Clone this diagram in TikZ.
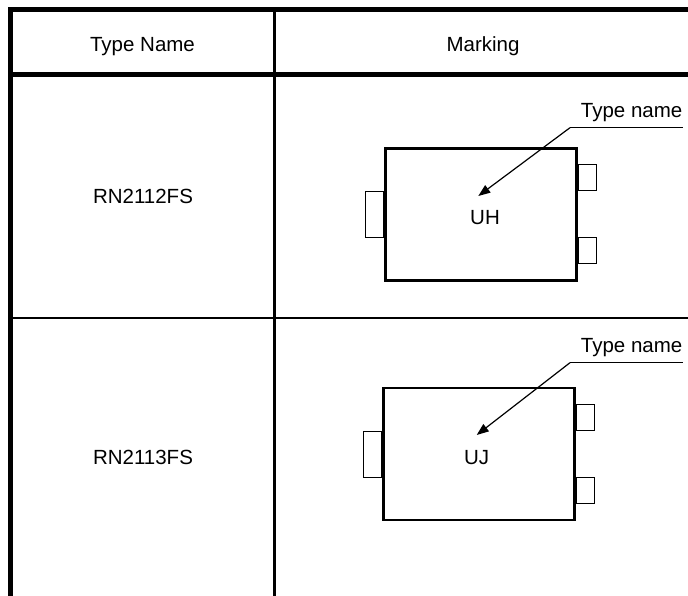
\documentclass[tikz,border=0pt]{standalone}
\usepackage{fontspec}
\setmainfont{Liberation Sans}
\usetikzlibrary{positioning}
\usetikzlibrary{arrows.meta}

\begin{document}
\begin{tikzpicture}[x=1pt,y=-1pt,
    lbl/.style={font=\fontsize{20.5}{24}\selectfont, inner sep=0pt},
    pkg/.style={shape=rectangle, draw=black, line width=2.5pt, minimum width=191, minimum height=132, inner sep=0pt},
    pinl/.style={shape=rectangle, draw=black, line width=1pt, minimum width=18, minimum height=46, inner sep=0pt, anchor=east},
    pinr/.style={shape=rectangle, draw=black, line width=1pt, minimum width=18, minimum height=26, inner sep=0pt, anchor=west}]
    \useasboundingbox (0,0) rectangle (688,596);

    % table frame
    \draw [line width=5pt] (688,9.5) -- (10.3,9.5) -- (10.3,596);
    \draw [line width=5pt] (10.3,74.5) -- (688,74.5);
    \draw [line width=2.7pt] (274.7,9.5) -- (274.7,596);
    \draw [line width=2.3pt] (10.3,318) -- (688,318);

    \node[lbl, anchor=base] (hd_type) at (142.5,51.7) {Type Name};
    \node[lbl, anchor=base] (hd_mark) at (483,51.7) {Marking};
    \node[lbl, anchor=base] (type_A) at (143,203.3) {RN2112FS};
    \node[lbl, anchor=base] (type_B) at (143,464) {RN2113FS};

    % first package
    \node[pkg] (pkg_A) at (480.8,214.7) {};
    \node[pinl] (pin_A1) at (pkg_A.west) {};
    \node[pinr] (pin_A2) at ([yshift=-36]pkg_A.east) {};
    \node[pinr] (pin_A3) at ([yshift=37]pkg_A.east) {};
    \node[lbl, anchor=base] (mark_A) at (485,225) {UH};
    \node[lbl, anchor=base west] (name_A) at (580.7,118) {Type name};
    \coordinate (lead_A) at (570,127.7);
    \coordinate (tip_A) at (478.3,196);
    \draw [line width=1.2pt] (lead_A) -- (lead_A -| name_A.east);
    \path [line width=1.2pt, -{Triangle[length=12pt, width=9pt]}] (lead_A) edge (tip_A);

    % second package
    \node[pkg] (pkg_B) at (479.2,454.2) {};
    \node[pinl] (pin_B1) at (pkg_B.west) {};
    \node[pinr] (pin_B2) at ([yshift=-36]pkg_B.east) {};
    \node[pinr] (pin_B3) at ([yshift=37]pkg_B.east) {};
    \node[lbl, anchor=base] (mark_B) at (476.7,464) {UJ};
    \node[lbl, anchor=base west] (name_B) at (580.7,352.3) {Type name};
    \coordinate (lead_B) at (570,362.7);
    \coordinate (tip_B) at (476.7,435);
    \draw [line width=1.2pt] (lead_B) -- (lead_B -| name_B.east);
    \path [line width=1.2pt, -{Triangle[length=12pt, width=9pt]}] (lead_B) edge (tip_B);
\end{tikzpicture}
\end{document}
